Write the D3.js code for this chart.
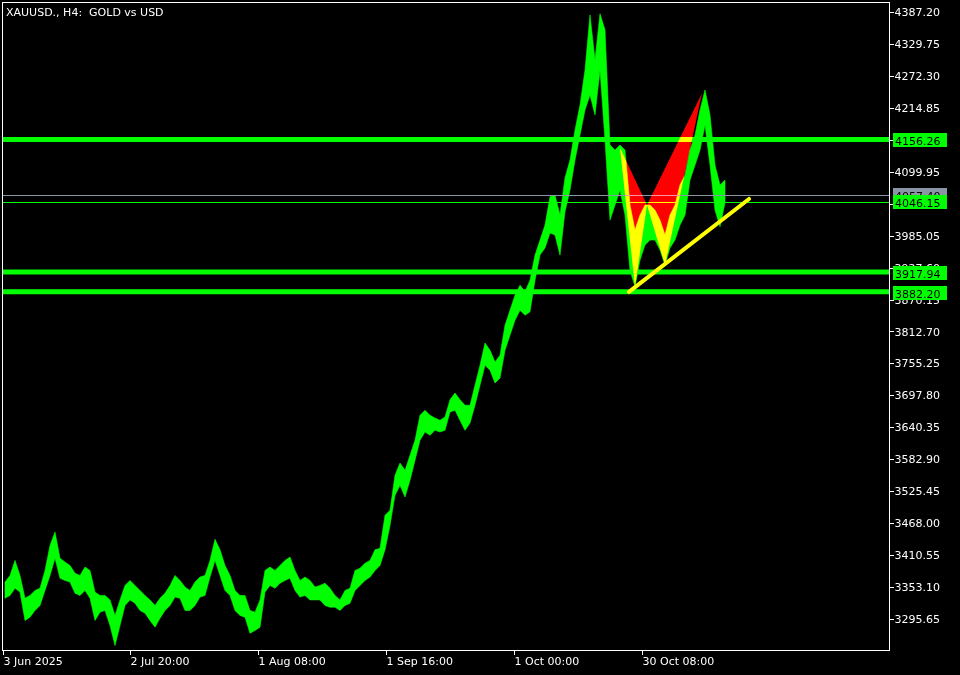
<!DOCTYPE html>
<html>
<head>
<meta charset="utf-8">
<script src="https://cdn.jsdelivr.net/npm/d3@7"></script>
<style>
	body { margin: 0; background: #000; }
	svg { display: block; }
	text { font-family: "DejaVu Sans", sans-serif; font-size: 11px; fill: #fff; }
</style>
</head>
<body>
<script>
// XAUUSD H4, one sample every 5 bars (high / low)
var highs = [3362, 3374, 3401, 3374, 3333, 3338, 3347, 3351, 3383, 3428, 3452, 3405, 3398, 3392, 3378, 3374, 3389, 3383, 3344, 3338,
	3338, 3330, 3302, 3330, 3356, 3365, 3356, 3347, 3338, 3330, 3320, 3333, 3342, 3356, 3374, 3365, 3353, 3347, 3362, 3371,
	3374, 3401, 3439, 3420, 3392, 3374, 3347, 3338, 3338, 3311, 3308, 3330, 3383, 3389, 3383, 3392, 3401, 3407, 3383, 3365,
	3371, 3365, 3353, 3356, 3360, 3351, 3338, 3330, 3347, 3351, 3383, 3387, 3396, 3401, 3420, 3423, 3482, 3491, 3554, 3576,
	3563, 3590, 3617, 3662, 3671, 3662, 3657, 3653, 3659, 3690, 3702, 3690, 3680, 3680, 3716, 3752, 3792, 3779, 3758, 3770,
	3824, 3851, 3878, 3896, 3884, 3905, 3950, 3977, 4004, 4055, 4058, 4022, 4089, 4121, 4175, 4220, 4283, 4382, 4301, 4384,
	4355, 4148, 4139, 4148, 4139, 4040, 3995, 4022, 4040, 4040, 4031, 4013, 3986, 4022, 4040, 4076, 4094, 4139, 4166, 4211,
	4247, 4202, 4112, 4076, 4085];
var lows = [3333, 3338, 3351, 3344, 3293, 3299, 3311, 3320, 3347, 3374, 3405, 3369, 3365, 3362, 3342, 3338, 3347, 3333, 3293, 3308,
	3311, 3284, 3248, 3284, 3320, 3330, 3324, 3311, 3306, 3293, 3281, 3297, 3311, 3320, 3335, 3333, 3311, 3311, 3320, 3335,
	3338, 3371, 3401, 3374, 3347, 3338, 3311, 3302, 3299, 3270, 3275, 3281, 3344, 3356, 3351, 3360, 3365, 3369, 3347, 3335,
	3338, 3330, 3330, 3330, 3320, 3317, 3317, 3311, 3320, 3324, 3347, 3356, 3365, 3371, 3383, 3392, 3420, 3464, 3518, 3536,
	3515, 3545, 3581, 3617, 3632, 3626, 3635, 3632, 3635, 3668, 3671, 3653, 3635, 3648, 3680, 3716, 3752, 3743, 3720, 3729,
	3779, 3806, 3833, 3851, 3842, 3848, 3905, 3950, 3963, 3990, 3986, 3950, 4028, 4067, 4121, 4166, 4211, 4238, 4202, 4283,
	4157, 4013, 4040, 4067, 4022, 3923, 3893, 3941, 3968, 3977, 3977, 3959, 3932, 3963, 3977, 4004, 4022, 4085, 4112, 4139,
	4184, 4112, 4031, 4001, 4044];
var barStep = 5;

var priceTicks = [4387.20, 4329.75, 4272.30, 4214.85, 4157.40, 4099.95, 4042.50, 3985.05, 3927.60, 3870.15,
	3812.70, 3755.25, 3697.80, 3640.35, 3582.90, 3525.45, 3468.00, 3410.55, 3353.10, 3295.65];
var timeTicks = [0, 127, 255, 383, 511, 639];
var timeLabels = ["3 Jun 2025", "2 Jul 20:00", "1 Aug 08:00", "1 Sep 16:00", "1 Oct 00:00", "30 Oct 08:00"];

var levels = [4156.26, 3917.94, 3882.20];
var bidPrice = 4057.40;
var markPrice = 4046.15;

// harmonic pattern X, A, B, C, D
var patternBar = [617, 632, 644, 699, 662];
var patternPrice = [4143, 3893, 4040, 4241, 3932];
var triangles = [[0, 1, 2], [2, 3, 4]];

var trendBar = [626, 746];
var trendPrice = [3884, 4051];

var width = 960, height = 675;
var plot = {left: 3, right: 890, top: 3, bottom: 651};

var x = d3.scaleLinear().domain([0, plot.right - plot.left]).range([plot.left, plot.right]);
var y = d3.scaleLinear().domain([3295.65, 4387.20]).range([619, 12]);

var svg = d3.select("body").append("svg")
	.attr("width", width)
	.attr("height", height)
	.style("background", "#000");

var chart = svg.append("g");

// price ribbon
var area = d3.area()
	.x(function (d, i) { return x(i * barStep + 2); })
	.y0(function (d) { return y(d.low); })
	.y1(function (d) { return y(d.high); });

var bars = highs.map(function (h, i) { return {high: h, low: lows[i]}; });

chart.append("path")
	.datum(bars)
	.attr("d", area)
	.attr("fill", "#00ff00")
	.attr("stroke", "#00ff00")
	.attr("stroke-width", 0.6);

// levels
chart.append("line")
	.attr("x1", plot.left).attr("x2", plot.right)
	.attr("y1", Math.round(y(bidPrice)) + 0.5).attr("y2", Math.round(y(bidPrice)) + 0.5)
	.attr("stroke", "#8a96a3").attr("stroke-width", 1);

chart.append("line")
	.attr("x1", plot.left).attr("x2", plot.right)
	.attr("y1", Math.round(y(markPrice)) + 0.5).attr("y2", Math.round(y(markPrice)) + 0.5)
	.attr("stroke", "#00ff00").attr("stroke-width", 1);

chart.selectAll("line.level")
	.data(levels)
	.enter().append("line")
	.attr("class", "level")
	.attr("x1", plot.left).attr("x2", plot.right)
	.attr("y1", function (d) { return y(d) - 1; })
	.attr("y2", function (d) { return y(d) - 1; })
	.attr("stroke", "#00ff00")
	.attr("stroke-width", 5);

// pattern triangles, mixed like MT4 background objects
chart.selectAll("path.tri")
	.data(triangles)
	.enter().append("path")
	.attr("class", "tri")
	.attr("d", function (t) {
		return "M" + t.map(function (k) { return x(patternBar[k]) + "," + y(patternPrice[k]); }).join("L") + "Z";
	})
	.attr("fill", "#ff0000")
	.style("mix-blend-mode", "lighten");

// trend line
chart.append("line")
	.attr("x1", x(trendBar[0])).attr("y1", y(trendPrice[0]))
	.attr("x2", x(trendBar[1])).attr("y2", y(trendPrice[1]))
	.attr("stroke", "#ffff00")
	.attr("stroke-width", 4)
	.attr("stroke-linecap", "round");

// frame
svg.append("rect")
	.attr("x", plot.left - 0.5).attr("y", plot.top - 0.5)
	.attr("width", plot.right - plot.left).attr("height", plot.bottom - plot.top)
	.attr("fill", "none")
	.attr("stroke", "#fff")
	.attr("shape-rendering", "crispEdges");

// price axis
var yAxis = svg.append("g")
	.attr("transform", "translate(" + (plot.right - 0.5) + ",0)")
	.call(d3.axisRight(y)
		.tickValues(priceTicks)
		.tickSize(4)
		.tickPadding(1)
		.tickFormat(function (d) { return d.toFixed(2); }));
yAxis.select(".domain").remove();
yAxis.selectAll("line").attr("stroke", "#fff").attr("shape-rendering", "crispEdges");
yAxis.selectAll("text").attr("fill", "#fff").style("font-family", "DejaVu Sans").style("font-size", "11px");

// time axis
var xAxis = svg.append("g")
	.attr("transform", "translate(0," + (plot.bottom - 0.5) + ")")
	.call(d3.axisBottom(x)
		.tickValues(timeTicks)
		.tickSize(4)
		.tickPadding(3)
		.tickFormat(function (d, i) { return timeLabels[i]; }));
xAxis.select(".domain").remove();
xAxis.selectAll("line").attr("stroke", "#fff").attr("shape-rendering", "crispEdges");
xAxis.selectAll("text").attr("fill", "#fff").attr("text-anchor", "start")
	.style("font-family", "DejaVu Sans").style("font-size", "11px");

// price labels on the scale
var tags = [
	{price: bidPrice, color: "#8a96a3"},
	{price: markPrice, color: "#00ff00"},
	{price: levels[0], color: "#00ff00"},
	{price: levels[1], color: "#00ff00"},
	{price: levels[2], color: "#00ff00"}
];

var tag = svg.selectAll("g.tag")
	.data(tags)
	.enter().append("g")
	.attr("class", "tag")
	.attr("transform", function (d) { return "translate(893," + Math.round(y(d.price)) + ")"; });

tag.append("rect")
	.attr("x", 0).attr("y", -7)
	.attr("width", 54).attr("height", 14)
	.attr("fill", function (d) { return d.color; });

tag.append("text")
	.attr("x", 2).attr("y", 4.5)
	.style("fill", "#000")
	.text(function (d) { return d.price.toFixed(2); });

// title
svg.append("text")
	.attr("x", 6).attr("y", 16)
	.attr("xml:space", "preserve")
	.text("XAUUSD., H4:  GOLD vs USD");
</script>
</body>
</html>
